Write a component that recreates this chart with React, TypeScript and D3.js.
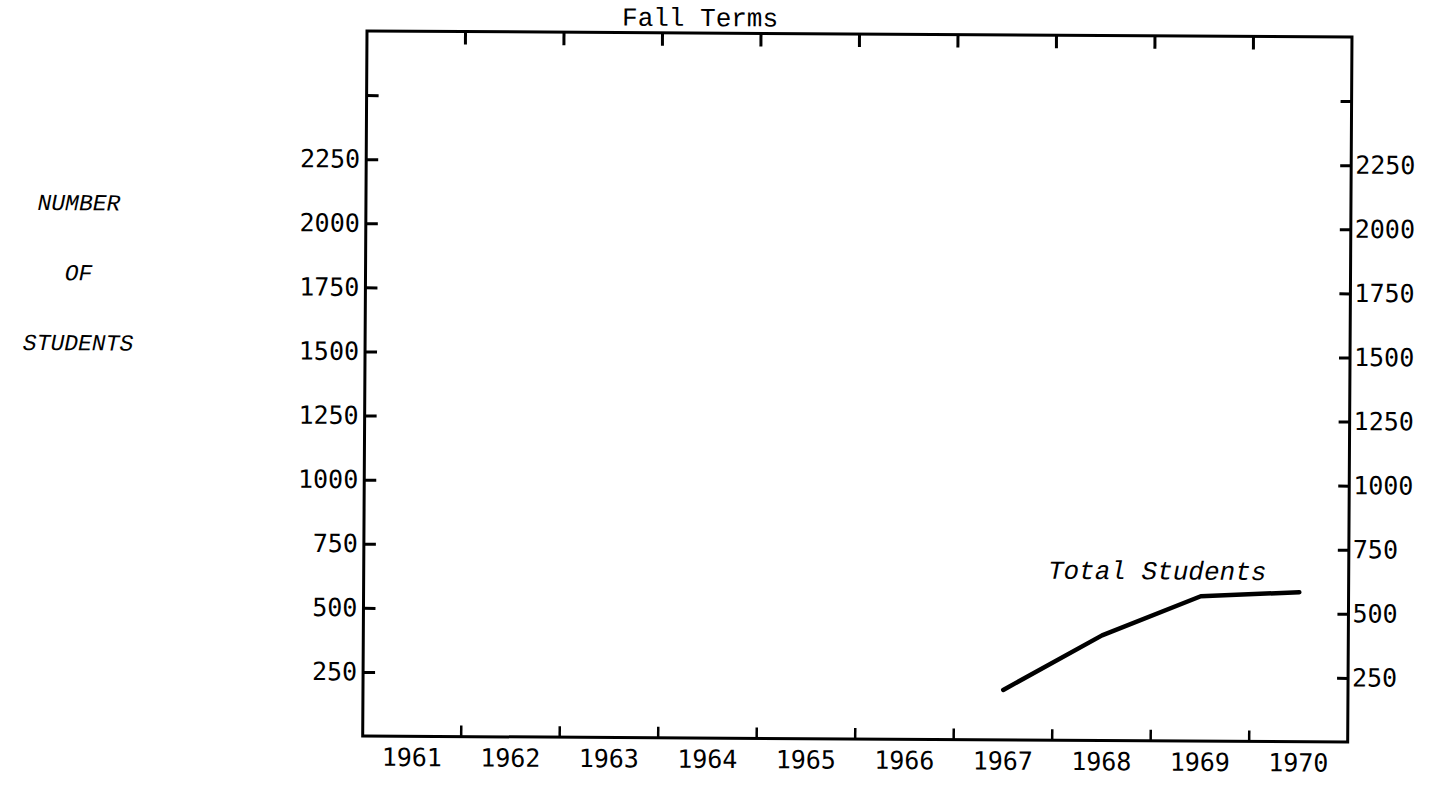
import React, { useEffect, useRef } from 'react';
import * as d3 from 'd3';

const years = ['1961', '1962', '1963', '1964', '1965', '1966', '1967', '1968', '1969', '1970'];
const totalYears = ['1967', '1968', '1969', '1970'];
const totalStudents = [195, 410, 565, 583];
const yTickValues = [250, 500, 750, 1000, 1250, 1500, 1750, 2000, 2250, 2500];
const yTickLabels = ['250', '500', '750', '1000', '1250', '1500', '1750', '2000', '2250', ''];
const yLabelLines = ['NUMBER', 'OF', 'STUDENTS'];

const W = 1437;
const H = 785;
const margin = { top: 31, right: 85, bottom: 49, left: 367 };
// the scanned page is turned a little clockwise
const tilt = 0.35;
const mono = '"DejaVu Sans Mono", monospace';
const typewriter = '"Liberation Mono", "Courier New", monospace';

function App() {
    const ref = useRef<SVGSVGElement>(null);

    useEffect(() => {
        const svg = d3.select(ref.current);
        svg.selectAll('*').remove();

        const left = margin.left;
        const right = W - margin.right;
        const top = margin.top;
        const bottom = H - margin.bottom;

        const g = svg.append('g')
            .attr('transform', `rotate(${tilt},${left},${top})`);

        const x = d3.scaleBand<string>()
            .domain(years)
            .range([left, right])
            .padding(0);

        const y = d3.scaleLinear()
            .domain([0, 2750])
            .range([bottom, top]);

        // frame
        g.append('rect')
            .attr('x', left)
            .attr('y', top)
            .attr('width', right - left)
            .attr('height', bottom - top)
            .attr('fill', 'none')
            .attr('stroke', '#000')
            .attr('stroke-width', 3);

        // year boundary ticks, top and bottom
        const bounds = years.slice(0, -1).map((yr) => x(yr)! + x.bandwidth());
        g.append('g').selectAll('line')
            .data(bounds)
            .join('line')
            .attr('x1', (d) => d).attr('x2', (d) => d)
            .attr('y1', top).attr('y2', top + 13)
            .attr('stroke', '#000').attr('stroke-width', 3);
        g.append('g').selectAll('line')
            .data(bounds)
            .join('line')
            .attr('x1', (d) => d).attr('x2', (d) => d)
            .attr('y1', bottom).attr('y2', bottom - 11)
            .attr('stroke', '#000').attr('stroke-width', 2.5);

        // year labels
        const xAxis = g.append('g')
            .attr('transform', `translate(0,${bottom})`)
            .call(d3.axisBottom(x).tickSize(0).tickPadding(12));
        xAxis.select('.domain').remove();
        xAxis.selectAll('text')
            .attr('font-family', mono)
            .attr('font-size', 25)
            .attr('fill', '#000');

        const fmt = (d: d3.NumberValue) => yTickLabels[yTickValues.indexOf(+d)];

        const yLeft = g.append('g')
            .attr('transform', `translate(${left},0)`)
            .call(d3.axisLeft(y).tickValues(yTickValues).tickFormat(fmt).tickSize(-12).tickPadding(6));
        const yRight = g.append('g')
            .attr('transform', `translate(${right},0)`)
            .call(d3.axisRight(y).tickValues(yTickValues).tickFormat(fmt).tickSize(-11).tickPadding(4));

        [yLeft, yRight].forEach((axis) => {
            axis.select('.domain').remove();
            axis.selectAll('.tick line').attr('stroke', '#000').attr('stroke-width', 3);
            axis.selectAll('.tick text')
                .attr('font-family', mono)
                .attr('font-size', 25)
                .attr('fill', '#000');
        });

        // line
        const line = d3.line<number>()
            .x((d, i) => x(totalYears[i])! + x.bandwidth() / 2)
            .y((d) => y(d));

        g.append('path')
            .datum(totalStudents)
            .attr('fill', 'none')
            .attr('stroke', '#000')
            .attr('stroke-width', 4.5)
            .attr('stroke-linejoin', 'round')
            .attr('stroke-linecap', 'round')
            .attr('d', line);

        g.append('text')
            .attr('x', x('1967')! + x.bandwidth() / 2 + 44)
            .attr('y', y(totalStudents[3]) - 12)
            .attr('font-family', typewriter)
            .attr('font-style', 'italic')
            .attr('font-size', 26)
            .attr('fill', '#000')
            .text('Total Students');

        // title
        g.append('text')
            .attr('x', 622)
            .attr('y', 24)
            .attr('font-family', typewriter)
            .attr('font-size', 26)
            .attr('fill', '#000')
            .text('Fall Terms');

        // y label
        g.append('g').selectAll('text')
            .data(yLabelLines)
            .join('text')
            .attr('x', 80)
            .attr('y', (d, i) => 212 + i * 70)
            .attr('text-anchor', 'middle')
            .attr('font-family', typewriter)
            .attr('font-style', 'italic')
            .attr('font-size', 23)
            .attr('fill', '#000')
            .text((d) => d);
    }, []);

    return (
        <div>
            <svg ref={ref} width={W} height={H} style={{ position: 'absolute', left: 0, top: 0, background: '#fff' }} />
        </div>
    );
}

export default App;
